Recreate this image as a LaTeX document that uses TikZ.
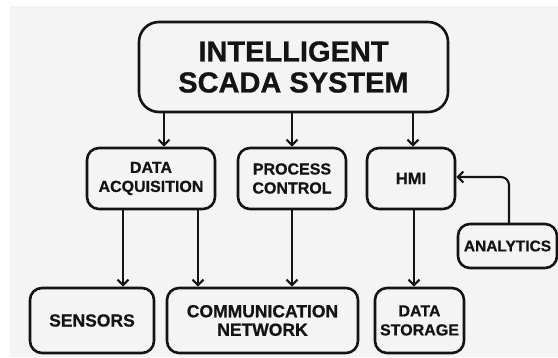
\documentclass[tikz,border=0pt]{standalone}
\usepackage{fontspec}
\setmainfont{Liberation Sans}[BoldFeatures={FakeBold=0.8}]
\usetikzlibrary{arrows.meta}

\definecolor{panel}{HTML}{F4F4F4}
\definecolor{ink}{HTML}{141414}

\tikzset{
  blk/.style={
    draw=ink,
    line width=2.6pt,
    rounded corners=12pt,
    align=center,
    inner sep=0pt,
    text=ink,
    font=\bfseries\fontsize{16}{19}\selectfont
  },
  arr/.style={
    draw=ink,
    line width=2.1pt,
    -{Straight Barb[length=5.5pt,width=11pt,line width=2.1pt]}
  }
}

\begin{document}
\begin{tikzpicture}[
  x=1pt,
  y=-1pt,
  line cap=round,
  line join=round
]
  % Фон
  \useasboundingbox (0,0) rectangle (558,358);
  \fill[white] (0,0) rectangle (558,358);
  \fill[panel] (10,6) rectangle (558,357);

  % Верхний блок
  \node[blk,
    rounded corners=20pt,
    minimum width=309pt,
    minimum height=90pt,
    font=\bfseries\fontsize{29}{31}\selectfont]
    (scada) at (293.5,67) {INTELLIGENT\\SCADA SYSTEM};

  % Средний ряд
  \node[blk,minimum width=128pt,minimum height=61pt]
    (da) at (151,178.5) {DATA\\ACQUISITION};

  \node[blk,minimum width=108pt,minimum height=61pt]
    (pc) at (292,178.5) {PROCESS\\CONTROL};

  \node[blk,minimum width=88pt,minimum height=61pt,
    font=\bfseries\fontsize{16.5}{19}\selectfont]
    (hmi) at (411,178.5) {HMI};

  \node[blk,minimum width=99pt,minimum height=44pt,
    font=\bfseries\fontsize{15.5}{18}\selectfont]
    (analytics) at (507.5,246) {ANALYTICS};

  % Нижний ряд
  \node[blk,minimum width=124pt,minimum height=65pt,
    font=\bfseries\fontsize{17.5}{18.5}\selectfont]
    (sensors) at (92,320.5) {SENSORS};

  \node[blk,minimum width=191pt,minimum height=65pt,
    font=\bfseries\fontsize{17.5}{18.5}\selectfont]
    (comm) at (262.5,320.5) {COMMUNICATION\\NETWORK};

  \node[blk,minimum width=89pt,minimum height=65pt]
    (ds) at (419.5,320.5) {DATA\\STORAGE};

  % Стрелки сверху вниз
  \draw[arr]
    ([xshift=13pt]da.north |- scada.south) -- ([xshift=13pt]da.north);

  \draw[arr]
    (pc.north |- scada.south) -- (pc.north);

  \draw[arr]
    ([xshift=2pt]hmi.north |- scada.south) -- ([xshift=2pt]hmi.north);

  \draw[arr]
    ([xshift=-28pt]da.south) -- ([xshift=-28pt]da.south |- sensors.north);

  \draw[arr]
    ([xshift=47pt]da.south) -- ([xshift=47pt]da.south |- comm.north);

  \draw[arr]
    (pc.south) -- (pc.south |- comm.north);

  \draw[arr]
    ([xshift=3pt]hmi.south) -- ([xshift=3pt]hmi.south |- ds.north);

  % Обратная связь от аналитики
  \draw[arr,rounded corners=8pt]
    ([xshift=1.5pt]analytics.north) |- ([yshift=1.5pt]hmi.east);
\end{tikzpicture}
\end{document}
